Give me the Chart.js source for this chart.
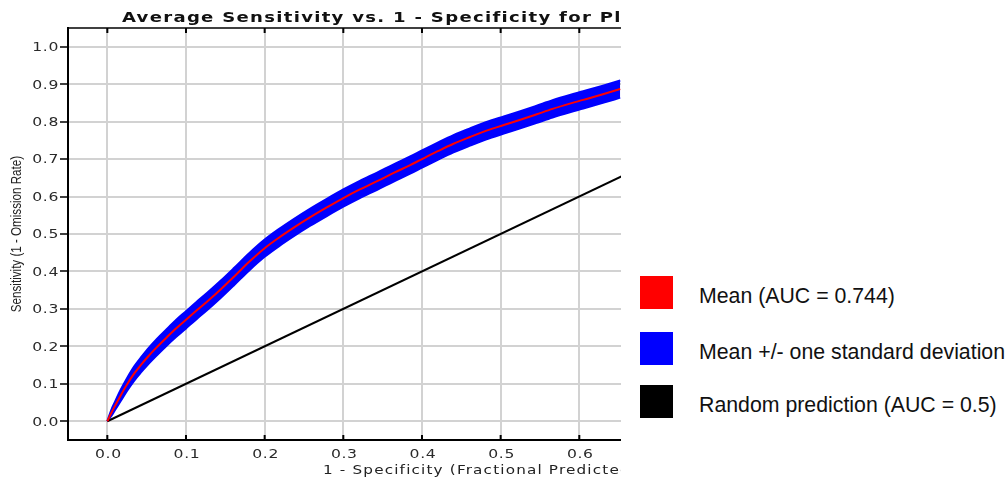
<!DOCTYPE html>
<html><head><meta charset="utf-8">
<script src="https://cdn.jsdelivr.net/npm/chart.js@4/dist/chart.umd.min.js"></script>
<style>
html,body{margin:0;padding:0;background:#fff;}
#wrap{position:relative;width:1006px;height:484px;overflow:hidden;background:#fff;}
#cbox{position:absolute;left:0;top:0;width:621px;height:484px;}
.sw{position:absolute;left:640px;width:33px;height:33px;}
.lt{position:absolute;left:699px;font-family:"Liberation Sans",Arial,sans-serif;font-size:21.3px;line-height:21px;color:#111;white-space:nowrap;}
</style></head><body>
<div id="wrap">
<div id="cbox"><canvas id="c"></canvas></div>
<div id="legend"></div>
</div>
<script>
// ---- text ----
const chartTitle = "Average Sensitivity vs. 1 - Specificity for Pl";
const xAxisTitle = "1 - Specificity (Fractional Predicted Area)";
const yAxisTitle = "Sensitivity (1 - Omission Rate)";
const legendLabels = ["Mean (AUC = 0.744)", "Mean +/- one standard deviation", "Random prediction (AUC = 0.5)"];
const legendColors = ["#ff0000", "#0000ff", "#000000"];

// ---- tick labels ----
const xTicks = [0.0, 0.1, 0.2, 0.3, 0.4, 0.5, 0.6];
const yTicks = [0.0, 0.1, 0.2, 0.3, 0.4, 0.5, 0.6, 0.7, 0.8, 0.9, 1.0];

// ---- data ----
const specificity = [0, 0.005, 0.01, 0.017, 0.025, 0.034, 0.043, 0.051, 0.063, 0.076, 0.088, 0.1, 0.113, 0.127, 0.144, 0.161, 0.18, 0.2, 0.218, 0.237, 0.258, 0.279, 0.3, 0.321, 0.343, 0.364, 0.385, 0.4, 0.42, 0.44, 0.461, 0.482, 0.504, 0.525, 0.545, 0.566, 0.588, 0.605, 0.63, 0.652];
const meanSens    = [0, 0.022, 0.042, 0.069, 0.098, 0.127, 0.151, 0.171, 0.198, 0.225, 0.249, 0.271, 0.295, 0.320, 0.352, 0.386, 0.425, 0.462, 0.490, 0.517, 0.545, 0.571, 0.596, 0.619, 0.641, 0.663, 0.684, 0.700, 0.721, 0.741, 0.759, 0.776, 0.791, 0.805, 0.819, 0.834, 0.848, 0.858, 0.873, 0.887];
const upperSens   = [0, 0.030, 0.053, 0.084, 0.115, 0.146, 0.171, 0.192, 0.220, 0.247, 0.272, 0.294, 0.318, 0.343, 0.375, 0.409, 0.448, 0.485, 0.513, 0.540, 0.568, 0.594, 0.619, 0.642, 0.664, 0.686, 0.707, 0.723, 0.744, 0.764, 0.782, 0.799, 0.814, 0.828, 0.842, 0.857, 0.871, 0.881, 0.896, 0.910];
const lowerSens   = [0, 0.014, 0.031, 0.054, 0.081, 0.108, 0.131, 0.150, 0.176, 0.203, 0.226, 0.248, 0.272, 0.297, 0.329, 0.363, 0.402, 0.439, 0.467, 0.494, 0.522, 0.548, 0.573, 0.596, 0.618, 0.640, 0.661, 0.677, 0.698, 0.718, 0.736, 0.753, 0.768, 0.782, 0.796, 0.811, 0.825, 0.835, 0.850, 0.864];
const randomX = [0, 1];
const randomY = [0, 1];

// ---- legend (HTML) ----
const legendSwatchTop = [276, 332, 385];
const legendTextTop = [286, 342, 395];
const lg = document.getElementById('legend');
legendLabels.forEach((t, i) => {
  const s = document.createElement('div'); s.className = 'sw';
  s.style.top = legendSwatchTop[i] + 'px'; s.style.background = legendColors[i]; lg.appendChild(s);
  const l = document.createElement('div'); l.className = 'lt';
  l.style.top = legendTextTop[i] + 'px'; l.textContent = t; lg.appendChild(l);
});

const pts = (xs, ys) => xs.map((x, i) => ({x: x, y: ys[i]}));

function stretchedText(ctx, text, x, y, sx, align) {
  ctx.save();
  ctx.translate(x, y);
  ctx.scale(sx, 1);
  ctx.textAlign = align;
  ctx.fillText(text, 0, 0);
  ctx.restore();
}

const deco = {
  id: 'deco',
  afterDraw(chart) {
    const ctx = chart.ctx, a = chart.chartArea, xs = chart.scales.x, ys = chart.scales.y;
    ctx.save();
    // frame top line and inward ticks
    ctx.strokeStyle = '#000'; ctx.lineWidth = 1.5;
    ctx.beginPath(); ctx.moveTo(a.left - 1, a.top); ctx.lineTo(a.right, a.top); ctx.stroke();
    ctx.lineWidth = 2;
    xTicks.forEach(v => {
      const px = xs.getPixelForValue(v);
      ctx.beginPath();
      ctx.moveTo(px, a.top); ctx.lineTo(px, a.top + 5);
      ctx.moveTo(px, a.bottom); ctx.lineTo(px, a.bottom - 5);
      ctx.stroke();
    });
    // tick labels
    ctx.fillStyle = '#2a2a2a';
    ctx.textBaseline = 'alphabetic';
    ctx.font = '12px "DejaVu Sans"';
    ctx.letterSpacing = '0.5px';
    xTicks.forEach(v => {
      stretchedText(ctx, v.toFixed(1), xs.getPixelForValue(v) + 1, 458, 1.3, 'center');
    });
    yTicks.forEach(v => {
      stretchedText(ctx, v.toFixed(1), 59, ys.getPixelForValue(v) + 4.4, 1.3, 'right');
    });
    // chart title
    ctx.fillStyle = '#111';
    ctx.font = 'bold 14px "DejaVu Sans"'; ctx.letterSpacing = '1px';
    stretchedText(ctx, chartTitle, 122, 22, 1.29, 'left');
    // x axis title
    ctx.fillStyle = '#222';
    ctx.font = '13px "DejaVu Sans"'; ctx.letterSpacing = '1px';
    stretchedText(ctx, xAxisTitle, 323, 474, 1.17, 'left');
    // y axis title
    ctx.letterSpacing = '0px';
    ctx.translate(17.5, (a.top + a.bottom) / 2);
    ctx.rotate(-Math.PI / 2);
    ctx.scale(0.83, 1);
    ctx.font = '14px "Liberation Sans"';
    ctx.textAlign = 'center'; ctx.textBaseline = 'middle';
    ctx.fillText(yAxisTitle, 0, 0);
    ctx.restore();
  }
};

Chart.defaults.font.family = '"DejaVu Sans"';
new Chart(document.getElementById('c'), {
  type: 'line',
  data: {
    datasets: [
      {label: 'upper', data: pts(specificity, upperSens), borderColor: '#0000ff', borderWidth: 2, pointRadius: 0, fill: false, order: 3, cubicInterpolationMode: 'monotone'},
      {label: 'lower', data: pts(specificity, lowerSens), borderColor: '#0000ff', borderWidth: 2, pointRadius: 0, fill: '-1', backgroundColor: '#0000ff', order: 2, cubicInterpolationMode: 'monotone'},
      {label: 'random', data: pts(randomX, randomY), borderColor: '#000000', borderWidth: 2, pointRadius: 0, fill: false, order: 1},
      {label: 'mean', data: pts(specificity, meanSens), borderColor: '#ff0000', borderWidth: 2, pointRadius: 0, fill: false, order: 0, cubicInterpolationMode: 'monotone'}
    ]
  },
  options: {
    responsive: true, maintainAspectRatio: false, animation: false,
    layout: {padding: {top: 28, right: 0, left: 0, bottom: 0}},
    plugins: {legend: {display: false}, title: {display: false}, tooltip: {enabled: false}},
    scales: {
      x: {
        type: 'linear', min: -0.05, max: 0.653,
        afterBuildTicks: s => { s.ticks = xTicks.map(v => ({value: v})); },
        afterFit: s => { s.height = 44; },
        grid: {color: '#d2d2d2', lineWidth: 2, drawTicks: false},
        border: {display: true, color: '#000', width: 2},
        ticks: {display: false}
      },
      y: {
        type: 'linear', min: -0.05, max: 1.05,
        afterBuildTicks: s => { s.ticks = yTicks.map(v => ({value: v})); },
        afterFit: s => { s.width = 68; },
        grid: {color: '#d2d2d2', lineWidth: 2, tickColor: '#000', tickLength: 8, tickWidth: 1.5},
        border: {display: true, color: '#000', width: 2},
        ticks: {display: false}
      }
    }
  },
  plugins: [deco]
});
</script>
</body></html>
